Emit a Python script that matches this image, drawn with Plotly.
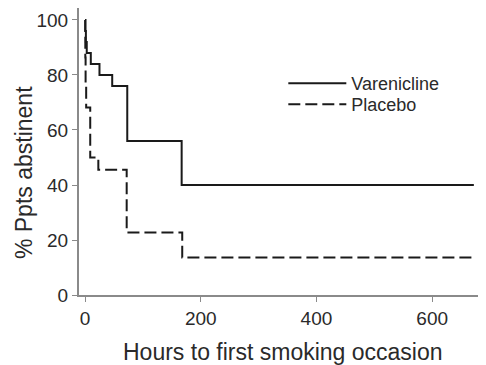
import plotly.graph_objects as go

# Kaplan-Meier style step data (hours, % abstinent)
var_hours = [0, 0.5, 1.5, 3, 10, 25, 47, 73, 167, 672]
var_pct = [100, 96, 92, 88, 84, 80, 76, 56, 40, 40]

pla_hours = [0, 0.5, 1, 2, 9, 23, 72, 168, 672]
pla_pct = [100, 86.4, 77.3, 68.2, 50, 45.5, 22.7, 13.6, 13.6]

x_ticks = [0, 200, 400, 600]
y_ticks = [0, 20, 40, 60, 80, 100]

FONT = "Liberation Sans, Arial"

fig = go.Figure()
fig.add_trace(go.Scatter(x=var_hours, y=var_pct, mode="lines", name="Varenicline",
                         legend="legend",
                         line=dict(shape="hv", color="#1a1a1a", width=2)))
fig.add_trace(go.Scatter(x=pla_hours, y=pla_pct, mode="lines", name="Placebo",
                         legend="legend2",
                         line=dict(shape="hv", color="#1a1a1a", width=2, dash="12px,5px")))

axis_common = dict(showgrid=False, zeroline=False, showline=True, linecolor="#8a8a8a",
                   linewidth=2, ticks="outside", ticklen=5, tickcolor="#8a8a8a", tickwidth=1,
                   automargin=False,
                   tickfont=dict(family=FONT, size=19, color="#2a2a2a"))

legend_common = dict(x=0.502, xanchor="left", yanchor="top",
                     font=dict(family=FONT, size=18, color="#2a2a2a"),
                     bgcolor="rgba(0,0,0,0)", itemwidth=58)

fig.update_layout(
    width=478, height=357,
    margin=dict(l=71, r=0, t=0, b=70),
    paper_bgcolor="white", plot_bgcolor="white",
    xaxis=dict(range=[-10.4, 693], tickvals=x_ticks, **axis_common),
    yaxis=dict(range=[0, 104.36], tickvals=y_ticks, **axis_common),
    legend=dict(y=0.801, **legend_common),
    legend2=dict(y=0.728, **legend_common),
    showlegend=True,
    annotations=[
        dict(text="Hours to first smoking occasion", xref="paper", yref="paper",
             x=0.5, y=-0.199, xanchor="center", yanchor="middle", showarrow=False,
             font=dict(family=FONT, size=23, color="#2a2a2a")),
        dict(text="% Ppts abstinent", xref="paper", yref="paper",
             x=-0.135, y=0.425, xanchor="center", yanchor="middle", showarrow=False,
             textangle=-90, font=dict(family=FONT, size=23, color="#2a2a2a")),
    ],
)

fig.write_html("out.html")
